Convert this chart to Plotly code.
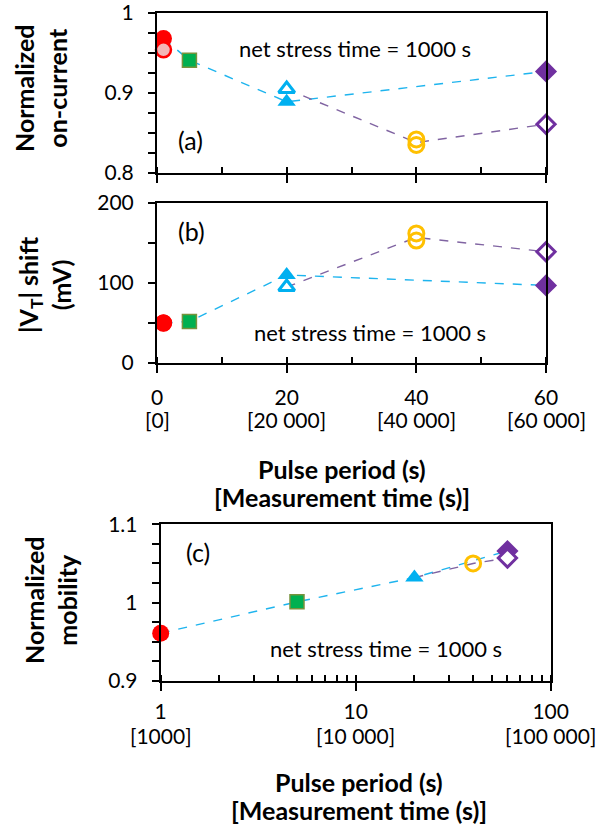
import math
import plotly.graph_objects as go

W, H = 603, 829

# ---------------- data ----------------
pulse_filled = [1, 5, 20, 60]          # blue dashed series
pulse_open = [20, 40, 60]              # purple dashed series

# panel (a) normalized on-current
a_filled = [0.968, 0.941, 0.889, 0.927]
a_open = [0.905, 0.838, 0.861]
a_pink = [0.954]
a_yellow = [0.842, 0.835]

# panel (b) |VT| shift (mV)
b_filled = [50, 52, 110, 97]
b_open = [95, 157, 139]
b_pink = [50]
b_yellow = [162, 153]

# panel (c) normalized mobility
c_filled = [0.961, 1.001, 1.032, 1.066]
c_open = [1.032, 1.050, 1.057]
c_yellow = [1.050]

lin_ticks = [0, 20, 40, 60]
lin_ticktext = ["0", "20", "40", "60"]
lin_meas = ["[0]", "[20 000]", "[40 000]", "[60 000]"]
log_ticks = [1, 10, 100]
log_ticktext = ["1", "10", "100"]
log_meas = ["[1000]", "[10 000]", "[100 000]"]

a_ticks = [0.8, 0.9, 1.0]
a_ticktext = ["0.8", "0.9", "1"]
b_ticks = [0, 100, 200]
b_ticktext = ["0", "100", "200"]
c_ticks = [0.9, 1.0, 1.1]
c_ticktext = ["0.9", "1", "1.1"]

# ---------------- styles ----------------
FONT = "Lato"
BLUE = "#00B0F0"
BLUE_LINE = "#1EB4EE"
PURPLE = "#7030A0"
PURPLE_LINE = "#8064A2"
RED = "#FF0000"
PINK = "#F4B6B6"
GREEN = "#00B050"
GREEN_EDGE = "#77933C"
YELLOW = "#FFC000"

fig = go.Figure()


def px_x(p):
    return p / W


def px_y(p):
    return 1 - p / H


def add_panel(xa, ya, filled, opn, pink, yellow, show_open_tri=True, pink_on_top=True):
    xr = dict(xaxis=xa, yaxis=ya)
    fig.add_trace(go.Scatter(x=pulse_filled, y=filled, mode="lines",
                             line=dict(color=BLUE_LINE, width=1.4, dash="dash"),
                             hoverinfo="skip", **xr))
    fig.add_trace(go.Scatter(x=pulse_open, y=opn, mode="lines",
                             line=dict(color=PURPLE_LINE, width=1.4, dash="dash"),
                             hoverinfo="skip", **xr))

    def pink_trace():
        if pink:
            fig.add_trace(go.Scatter(x=pulse_filled[:1] * len(pink), y=pink, mode="markers",
                                     marker=dict(symbol="circle", size=15, color=PINK,
                                                 line=dict(width=2.5, color=RED)),
                                     cliponaxis=False, **xr))

    if not pink_on_top:
        pink_trace()
    # red filled circle
    fig.add_trace(go.Scatter(x=pulse_filled[:1], y=filled[:1], mode="markers",
                             marker=dict(symbol="circle", size=17, color=RED,
                                         line=dict(width=0)), cliponaxis=False, **xr))
    if pink_on_top:
        pink_trace()
    # green square
    fig.add_trace(go.Scatter(x=pulse_filled[1:2], y=filled[1:2], mode="markers",
                             marker=dict(symbol="square", size=14, color=GREEN,
                                         line=dict(width=1.5, color=GREEN_EDGE)),
                             cliponaxis=False, **xr))
    # open triangle
    if show_open_tri:
        fig.add_trace(go.Scatter(x=pulse_open[:1], y=opn[:1], mode="markers",
                                 marker=dict(symbol="triangle-up", size=14, color="white",
                                             line=dict(width=3, color=BLUE)),
                                 cliponaxis=False, **xr))
    # filled triangle
    fig.add_trace(go.Scatter(x=pulse_filled[2:3], y=filled[2:3], mode="markers",
                             marker=dict(symbol="triangle-up", size=16, color=BLUE,
                                         line=dict(width=0)), cliponaxis=False, **xr))
    # yellow rings
    fig.add_trace(go.Scatter(x=[pulse_open[1]] * len(yellow), y=yellow, mode="markers",
                             marker=dict(symbol="circle", size=15, color="rgba(255,255,255,0)",
                                         line=dict(width=3, color=YELLOW)),
                             cliponaxis=False, **xr))
    # purple diamonds
    fig.add_trace(go.Scatter(x=pulse_filled[3:4], y=filled[3:4], mode="markers",
                             marker=dict(symbol="diamond", size=17, color=PURPLE,
                                         line=dict(width=0)), cliponaxis=False, **xr))
    fig.add_trace(go.Scatter(x=pulse_open[2:3], y=opn[2:3], mode="markers",
                             marker=dict(symbol="diamond", size=14, color="white",
                                         line=dict(width=3, color=PURPLE)),
                             cliponaxis=False, **xr))


add_panel("x", "y", a_filled, a_open, a_pink, a_yellow)
add_panel("x2", "y2", b_filled, b_open, b_pink, b_yellow, pink_on_top=False)
add_panel("x3", "y3", c_filled, c_open, [], c_yellow, show_open_tri=False)

tickfont = dict(family=FONT, size=21, color="black")
axis_common = dict(showline=True, linecolor="black", linewidth=2, mirror=True,
                   showgrid=False, zeroline=False, ticks="outside", tickcolor="black",
                   tickwidth=2, tickfont=tickfont, automargin=False,
                   ticklabeloverflow="allow")

dom_ab_x = [px_x(157), px_x(546)]
dom_c_x = [px_x(160.7), px_x(550.7)]

fig.update_layout(
    width=W, height=H,
    margin=dict(l=0, r=0, t=0, b=0, pad=0),
    paper_bgcolor="white", plot_bgcolor="white",
    showlegend=False,
    font=dict(family=FONT, color="black"),
    xaxis=dict(domain=dom_ab_x, anchor="y", range=[0, 60], tickvals=lin_ticks,
               showticklabels=False, ticklen=8,
               minor=dict(dtick=10, ticks="inside", ticklen=6, tickwidth=1.5, tickcolor="black"),
               **axis_common),
    yaxis=dict(domain=[px_y(173), px_y(13)], anchor="x", range=[0.8, 1.0],
               tickvals=a_ticks, ticktext=a_ticktext, ticklen=7, ticklabelstandoff=10,
               minor=dict(dtick=0.025, ticks="outside", ticklen=7, tickwidth=1.5, tickcolor="black"),
               **axis_common),
    xaxis2=dict(domain=dom_ab_x, anchor="y2", range=[0, 60], tickvals=lin_ticks,
                ticktext=lin_ticktext, ticklen=8, ticklabelstandoff=7,
                minor=dict(dtick=10, ticks="inside", ticklen=6, tickwidth=1.5, tickcolor="black"),
                **axis_common),
    yaxis2=dict(domain=[px_y(363), px_y(203)], anchor="x2", range=[0, 200],
                tickvals=b_ticks, ticktext=b_ticktext, ticklen=7, ticklabelstandoff=10,
                minor=dict(dtick=50, ticks="outside", ticklen=7, tickwidth=1.5, tickcolor="black"),
                **axis_common),
    xaxis3=dict(domain=dom_c_x, anchor="y3", type="log", range=[0, 2], tickvals=log_ticks,
                ticktext=log_ticktext, ticklen=8, ticklabelstandoff=3,
                minor=dict(dtick="D1", ticks="inside", ticklen=6, tickwidth=1.5, tickcolor="black"),
                **axis_common),
    yaxis3=dict(domain=[px_y(681), px_y(524.3)], anchor="x3", range=[0.9, 1.1],
                tickvals=c_ticks, ticktext=c_ticktext, ticklen=7, ticklabelstandoff=10,
                minor=dict(dtick=0.025, ticks="outside", ticklen=7, tickwidth=1.5, tickcolor="black"),
                **axis_common),
)

ann = []
# measurement-time tick labels (second line), placed at the axis tick values
for v, t in zip(lin_ticks, lin_meas):
    ann.append(dict(x=v, xref="x2", y=px_y(419), yref="paper", text=t, showarrow=False,
                    font=dict(family=FONT, size=21), xanchor="center", yanchor="middle"))
for v, t in zip(log_ticks, log_meas):
    ann.append(dict(x=math.log10(v), xref="x3", y=px_y(735),
                    yref="paper", text=t, showarrow=False,
                    font=dict(family=FONT, size=21), xanchor="center", yanchor="middle"))

bold = dict(family=FONT, size=25, weight="bold")
# x-axis titles
for txt, yy, xx in [("Pulse period (s)", 469, 342), ("[Measurement time (s)]", 497, 342),
                    ("Pulse period (s)", 782, 359), ("[Measurement time (s)]", 810, 359)]:
    ann.append(dict(x=px_x(xx), xref="paper", y=px_y(yy), yref="paper", text=txt,
                    showarrow=False, font=bold, xanchor="center", yanchor="middle"))
# y-axis titles
for txt, xx, yy in [("Normalized<br>on-current", 41, 88),
                    ("|V<sub>T</sub>| shift<br>(mV)", 44, 285),
                    ("Normalized<br>mobility", 50, 600)]:
    ann.append(dict(x=px_x(xx), xref="paper", y=px_y(yy), yref="paper", text=txt,
                    showarrow=False, font=bold, textangle=-90,
                    xanchor="center", yanchor="middle"))
# in-plot notes
note = dict(family=FONT, size=22)
for xx, yy in [(355, 49), (370, 332), (386, 648)]:
    ann.append(dict(x=px_x(xx), xref="paper", y=px_y(yy), yref="paper",
                    text="net stress time = 1000 s", showarrow=False, font=note,
                    xanchor="center", yanchor="middle"))
for txt, xx, yy in [("(a)", 190, 140), ("(b)", 191, 231), ("(c)", 198, 552)]:
    ann.append(dict(x=px_x(xx), xref="paper", y=px_y(yy), yref="paper", text=txt,
                    showarrow=False, font=dict(family=FONT, size=25),
                    xanchor="center", yanchor="middle"))

fig.update_layout(annotations=ann)
fig.write_html("out.html", config={"displayModeBar": False},
               post_script="document.body.style.margin='0';document.body.style.padding='0';")
